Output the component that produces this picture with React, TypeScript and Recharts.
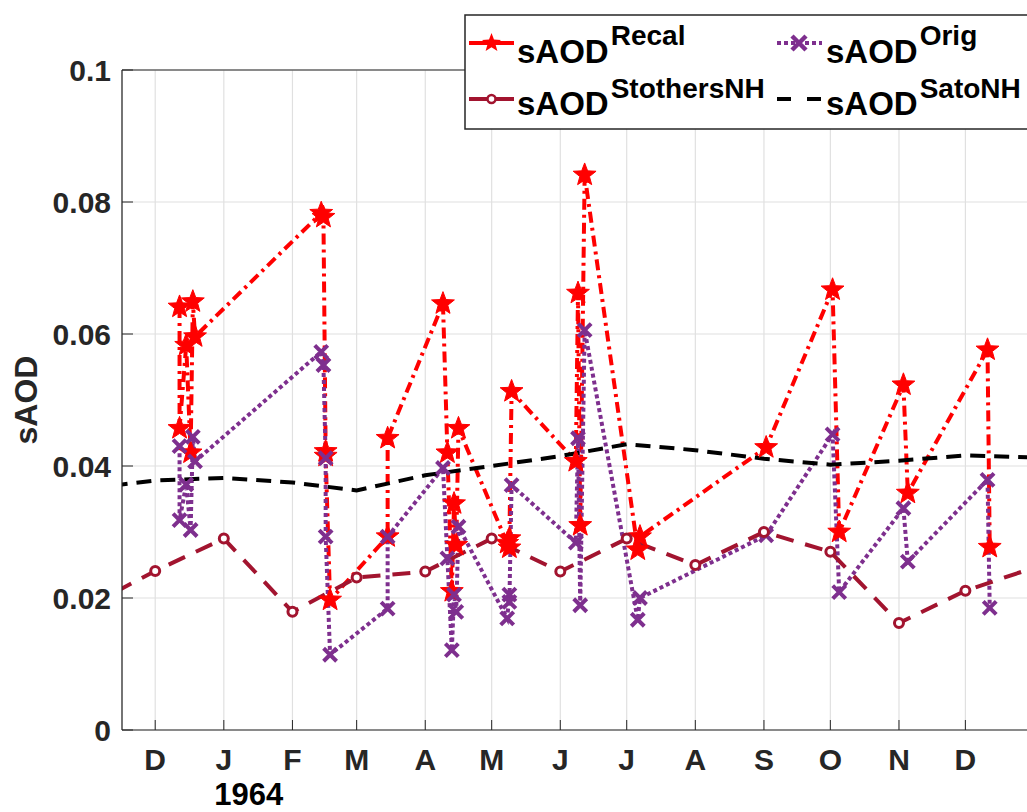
import { CartesianGrid, Line, LineChart, ReferenceLine, XAxis, YAxis } from "recharts";

// sAOD^Recal and sAOD^Orig share the same observation dates
const obsDates = [
  "1963-12-12", "1963-12-12", "1963-12-15", "1963-12-17", "1963-12-18", "1963-12-19",
  "1964-02-14", "1964-02-15", "1964-02-16", "1964-02-16", "1964-02-18",
  "1964-03-15", "1964-03-15",
  "1964-04-09", "1964-04-11", "1964-04-13", "1964-04-14", "1964-04-15", "1964-04-16",
  "1964-05-08", "1964-05-09", "1964-05-09", "1964-05-10",
  "1964-06-08", "1964-06-09", "1964-06-10", "1964-06-12",
  "1964-07-06", "1964-07-07",
  "1964-09-02",
  "1964-10-02", "1964-10-05",
  "1964-11-03", "1964-11-05",
  "1964-12-11", "1964-12-12",
];
const recalValues = [
  0.0641, 0.0457, 0.0583, 0.042, 0.0649, 0.0596,
  0.0783, 0.0777, 0.0422, 0.0415, 0.0197,
  0.0293, 0.0442,
  0.0646, 0.042, 0.021, 0.0343, 0.028, 0.0457,
  0.0283, 0.0276, 0.029, 0.0513,
  0.0407, 0.0662, 0.031, 0.0841,
  0.0273, 0.0293,
  0.0428,
  0.0667, 0.03,
  0.0523, 0.0359,
  0.0576, 0.0277,
];
const origValues = [
  0.043, 0.0318, 0.0372, 0.0303, 0.0444, 0.0407,
  0.0573, 0.0553, 0.0412, 0.0293, 0.0114,
  0.0184, 0.0293,
  0.0397, 0.026, 0.0121, 0.0205, 0.0179, 0.0308,
  0.0169, 0.0205, 0.0194, 0.0371,
  0.0284, 0.0442, 0.0189, 0.0606,
  0.0167, 0.02,
  0.0295,
  0.0448, 0.0209,
  0.0336, 0.0255,
  0.0379, 0.0185,
];

// monthly NH series (first of month)
const monthDates = [
  "1963-11-01", "1963-12-01", "1964-01-01", "1964-02-01", "1964-03-01",
  "1964-04-01", "1964-05-01", "1964-06-01", "1964-07-01", "1964-08-01",
  "1964-09-01", "1964-10-01", "1964-11-01", "1964-12-01", "1965-01-01",
];
const stothersValues = [
  0.0188, 0.0241, 0.029, 0.0179, 0.0231, 0.024, 0.029, 0.024,
  0.029, 0.025, 0.03, 0.027, 0.0162, 0.0211, 0.0246,
];
const satoValues = [
  0.0366, 0.0378, 0.0382, 0.0375, 0.0363, 0.0386, 0.04, 0.0415,
  0.0433, 0.0424, 0.0411, 0.0402, 0.0408, 0.0416, 0.0413,
];

const tickDates = [
  "1963-12-01", "1964-01-01", "1964-02-01", "1964-03-01", "1964-04-01",
  "1964-05-01", "1964-06-01", "1964-07-01", "1964-08-01", "1964-09-01",
  "1964-10-01", "1964-11-01", "1964-12-01",
];
const tickLabels = ["D", "J", "F", "M", "A", "M", "J", "J", "A", "S", "O", "N", "D"];
const yTicks = [0, 0.02, 0.04, 0.06, 0.08, 0.1];
const xLimits = ["1963-11-16", "1965-01-15"];

const T0 = Date.UTC(1963, 11, 1);
function dayNum(s: string) {
  const [y, m, d] = s.split("-").map(Number);
  return (Date.UTC(y, m - 1, d) - T0) / 86400000;
}

const recalData = obsDates.map((d, i) => ({ t: dayNum(d), v: recalValues[i] }));
const origData = obsDates.map((d, i) => ({ t: dayNum(d), v: origValues[i] }));
const stothersData = monthDates.map((d, i) => ({ t: dayNum(d), v: stothersValues[i] }));
const satoData = monthDates.map((d, i) => ({ t: dayNum(d), v: satoValues[i] }));
const tickDays = tickDates.map(dayNum);

const RED = "#ff0000";
const PURPLE = "#7e2f8e";
const MAROON = "#a2142f";
const AXIS = "#262626";
const FONT = '"Liberation Sans", Arial, Helvetica, sans-serif';

function starPath(cx: number, cy: number, R: number) {
  const r = R * 0.42;
  let d = "";
  for (let i = 0; i < 10; i++) {
    const rad = i % 2 === 0 ? R : r;
    const a = -Math.PI / 2 + (i * Math.PI) / 5;
    d += (i === 0 ? "M" : "L") + (cx + rad * Math.cos(a)).toFixed(2) + "," + (cy + rad * Math.sin(a)).toFixed(2);
  }
  return d + "Z";
}

// eslint-disable-next-line @typescript-eslint/no-explicit-any
function StarDot(p: any) {
  if (p.cx == null || p.cy == null) return <g key={p.index} />;
  return <path key={p.index} d={starPath(p.cx, p.cy, 12)} fill={RED} stroke={RED} strokeWidth={1} />;
}

// eslint-disable-next-line @typescript-eslint/no-explicit-any
function CrossDot(p: any) {
  if (p.cx == null || p.cy == null) return <g key={p.index} />;
  const s = 6.5;
  return (
    <path
      key={p.index}
      d={`M${p.cx - s},${p.cy - s}L${p.cx + s},${p.cy + s}M${p.cx - s},${p.cy + s}L${p.cx + s},${p.cy - s}`}
      stroke={PURPLE}
      strokeWidth={4}
      fill="none"
    />
  );
}

// eslint-disable-next-line @typescript-eslint/no-explicit-any
function CircleDot(p: any) {
  if (p.cx == null || p.cy == null) return <g key={p.index} />;
  return <circle key={p.index} cx={p.cx} cy={p.cy} r={4.5} fill="#fff" stroke={MAROON} strokeWidth={3} />;
}

// eslint-disable-next-line @typescript-eslint/no-explicit-any
function XTick({ x, y, payload }: any) {
  const i = tickDays.indexOf(payload.value);
  return (
    <g>
      <line x1={x} x2={x} y1={y} y2={y - 10} stroke={AXIS} strokeWidth={1} />
      <text x={x} y={y + 40} textAnchor="middle" fontFamily={FONT} fontWeight="bold" fontSize={30} fill={AXIS}>
        {tickLabels[i]}
      </text>
      {i === 1 && (
        <text x={x + 25} y={y + 75} textAnchor="middle" fontFamily={FONT} fontWeight="bold" fontSize={31} fill="#000">
          1964
        </text>
      )}
    </g>
  );
}

// eslint-disable-next-line @typescript-eslint/no-explicit-any
function YTick({ x, y, payload }: any) {
  const v = Number(payload.value);
  const label = v === 0 ? "0" : String(Number(v.toFixed(2)));
  return (
    <g>
      <line x1={x} x2={x + 11} y1={y} y2={y} stroke={AXIS} strokeWidth={1} />
      <text x={x - 11} y={y + 11} textAnchor="end" fontFamily={FONT} fontWeight="bold" fontSize={30} fill={AXIS}>
        {label}
      </text>
    </g>
  );
}

function Legend() {
  const big = { fontFamily: FONT, fontWeight: "bold" as const, fontSize: 33, fill: "#000" };
  return (
    <svg width={1027} height={140} style={{ position: "absolute", left: 0, top: 0 }}>
      <rect x={465} y={15} width={600} height={114} fill="#fff" stroke={AXIS} strokeWidth={1.5} />
      {/* Recal */}
      <line x1={469} x2={514} y1={43} y2={43} stroke={RED} strokeWidth={4} />
      <path d={starPath(491.5, 43, 10)} fill={RED} />
      <text x={517} y={63} {...big}>
        sAOD<tspan dx={2} dy={-18} fontSize={28}>Recal</tspan>
      </text>
      {/* Orig */}
      <line x1={777} x2={822} y1={43} y2={43} stroke={PURPLE} strokeWidth={4} strokeDasharray="4 3" />
      <path d="M792,36L806,50M792,50L806,36" stroke={PURPLE} strokeWidth={4.5} />
      <text x={826} y={63} {...big}>
        sAOD<tspan dx={2} dy={-18} fontSize={28}>Orig</tspan>
      </text>
      {/* Stothers */}
      <line x1={469} x2={514} y1={99} y2={99} stroke={MAROON} strokeWidth={4} />
      <circle cx={491.5} cy={99} r={4} fill="#fff" stroke={MAROON} strokeWidth={2.5} />
      <text x={517} y={115} {...big}>
        sAOD<tspan dx={2} dy={-17} fontSize={28}>StothersNH</tspan>
      </text>
      {/* Sato */}
      <line x1={777} x2={822} y1={99} y2={99} stroke="#000" strokeWidth={4} strokeDasharray="14 16" />
      <text x={826} y={115} {...big}>
        sAOD<tspan dx={2} dy={-17} fontSize={28}>SatoNH</tspan>
      </text>
    </svg>
  );
}

export default function App() {
  return (
    <div
      style={{
        position: "fixed",
        left: 0,
        top: 0,
        width: 1027,
        height: 812,
        overflow: "hidden",
        background: "#fff",
      }}
    >
      <LineChart width={1065} height={812} margin={{ top: 70, right: 0, bottom: 0, left: 0 }}>
        <CartesianGrid stroke="#e0e0e0" strokeWidth={1.2} />
        <XAxis
          type="number"
          dataKey="t"
          domain={xLimits.map(dayNum)}
          ticks={tickDays}
          interval={0}
          allowDataOverflow
          height={82}
          tickSize={0}
          tickMargin={0}
          tickLine={false}
          axisLine={{ stroke: AXIS, strokeWidth: 1.2 }}
          tick={<XTick />}
        />
        <YAxis
          type="number"
          domain={[0, 0.1]}
          ticks={yTicks}
          interval={0}
          width={122}
          tickSize={0}
          tickMargin={0}
          tickLine={false}
          axisLine={{ stroke: AXIS, strokeWidth: 1.2 }}
          tick={<YTick />}
          label={{
            // eslint-disable-next-line @typescript-eslint/no-explicit-any
            content: (p: any) => {
              const vb = p.viewBox ?? { x: 0, y: 70, width: 122, height: 660 };
              const cx = vb.x + 37;
              const cy = vb.y + vb.height / 2;
              return (
                <text
                  x={cx}
                  y={cy}
                  transform={`rotate(-90 ${cx} ${cy})`}
                  textAnchor="middle"
                  fontFamily={FONT}
                  fontWeight="bold"
                  fontSize={32}
                  fill={AXIS}
                >
                  sAOD
                </text>
              );
            },
          }}
        />
        <ReferenceLine y={0.1} stroke={AXIS} strokeWidth={1.2} />
        <Line
          data={recalData}
          dataKey="v"
          type="linear"
          stroke={RED}
          strokeWidth={4}
          strokeDasharray="11 5 3 5"
          dot={StarDot}
          activeDot={false}
          isAnimationActive={false}
        />
        <Line
          data={origData}
          dataKey="v"
          type="linear"
          stroke={PURPLE}
          strokeWidth={4}
          strokeDasharray="4 3"
          dot={CrossDot}
          activeDot={false}
          isAnimationActive={false}
        />
        <Line
          data={stothersData}
          dataKey="v"
          type="linear"
          stroke={MAROON}
          strokeWidth={4}
          strokeDasharray="18 12"
          dot={CircleDot}
          activeDot={false}
          isAnimationActive={false}
        />
        <Line
          data={satoData}
          dataKey="v"
          type="linear"
          stroke="#000"
          strokeWidth={4}
          strokeDasharray="15 9"
          dot={false}
          activeDot={false}
          isAnimationActive={false}
        />
      </LineChart>
      <Legend />
    </div>
  );
}
